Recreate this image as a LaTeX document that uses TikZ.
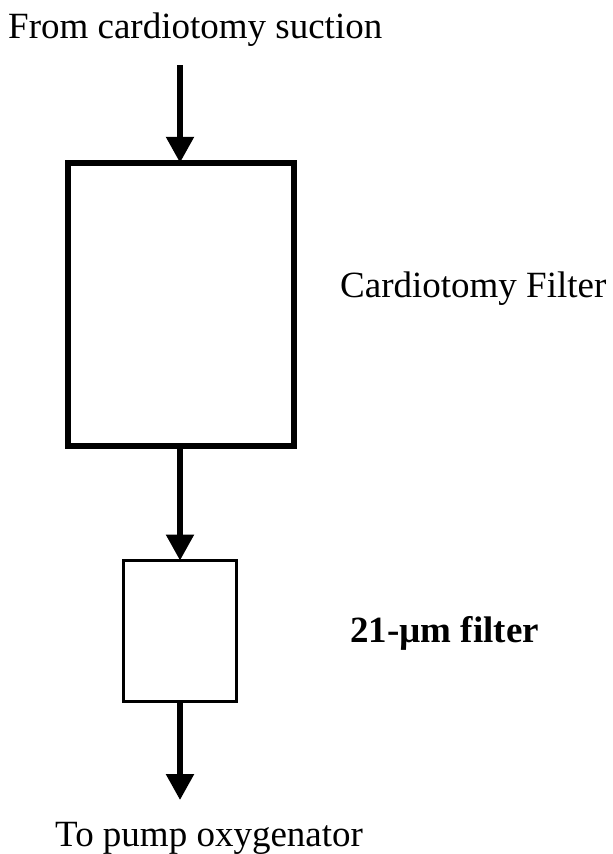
\documentclass[tikz,border=0pt]{standalone}
\usepackage{fontspec}
\setmainfont{Liberation Serif}
\usetikzlibrary{arrows.meta}
\begin{document}
\begin{tikzpicture}[x=1pt,y=-1pt,
  lbl/.style={inner sep=0pt,anchor=base west,font=\fontsize{37}{40}\selectfont},
  flow/.style={line width=5.5pt,-{Triangle[length=26pt,width=27pt]}},
  bigbox/.style={draw,line width=6.5pt,minimum width=226pt,minimum height=283pt,inner sep=0pt},
  smallbox/.style={draw,line width=3pt,minimum width=113pt,minimum height=141pt,inner sep=0pt}]
\useasboundingbox (0,0) rectangle (613,854);
\node[lbl] (src) at (8,38) {From cardiotomy suction};
\node[lbl] (cflab) at (340,297) {Cardiotomy Filter};
\node[lbl,font=\fontsize{37}{40}\selectfont\bfseries] (flab) at (350,642) {21-µm filter};
\node[lbl] (dst) at (55,846) {To pump oxygenator};
\node[bigbox] (big) at (181,304.5) {};
\node[smallbox] (small) at (180,631) {};
\coordinate (in) at (180,65);
\coordinate (out) at (180,800);
\draw[flow,shorten >=-3pt] (in) -- (in |- big.north);
\draw[flow,shorten >=-1.5pt] (small.north |- big.south) -- (small.north);
\draw[flow] (small.south) -- (out);
\end{tikzpicture}
\end{document}
